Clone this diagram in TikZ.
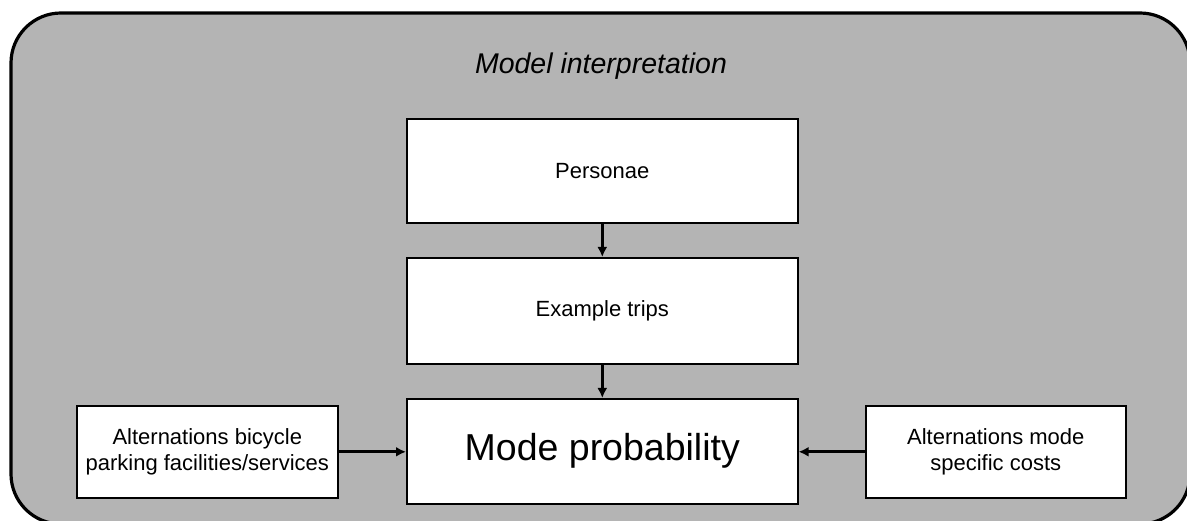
\documentclass[tikz,border=0pt]{standalone}
\usepackage{fontspec}
\setmainfont{Liberation Sans}
\usetikzlibrary{arrows.meta}
\definecolor{bggrey}{RGB}{180,180,180}
\tikzset{
  box/.style={draw=black, line width=1.6pt, fill=white, inner sep=0pt, anchor=north west},
  lbl/.style={align=center, font=\fontsize{22}{26}\selectfont},
  conn/.style={line width=2.8pt, -{Latex[length=10pt,width=10pt]}},
}
\begin{document}
\begin{tikzpicture}[x=1pt,y=-1pt]
\useasboundingbox (0,0) rectangle (1187,521);
\begin{scope}
\clip (0,0) rectangle (1187,521);
\draw[line width=3.2pt, fill=bggrey, rounded corners=50pt] (11,13) rectangle (1190,524);
\end{scope}
\node[font=\fontsize{28.5}{32}\selectfont\itshape] (title) at (601,66) {Model interpretation};
\node[box, minimum width=391pt, minimum height=104pt] (pers) at (406,118) {};
\node[lbl] (perslbl) at (pers.center) {Personae};
\node[box, minimum width=391pt, minimum height=106pt] (trip) at (406,257) {};
\node[lbl] (triplbl) at (trip.center) {Example trips};
\node[box, minimum width=391pt, minimum height=105pt] (mode) at (406,398) {};
\node[lbl, font=\fontsize{37.5}{42}\selectfont] (modelbl) at (mode.center) {Mode probability};
\node[box, minimum width=261pt, minimum height=92pt] (left) at (76,405) {};
\node[lbl] (leftlbl) at (left.center) {Alternations bicycle\\parking facilities/services};
\node[box, minimum width=260pt, minimum height=92pt] (right) at (865,405) {};
\node[lbl] (rightlbl) at (right.center) {Alternations mode\\specific costs};
\draw[conn] (pers.south) -- (trip.north);
\draw[conn] (trip.south) -- (mode.north);
\draw[conn] (left.east) -- (left.east -| mode.west);
\draw[conn] (right.west) -- (right.west -| mode.east);
\end{tikzpicture}
\end{document}
